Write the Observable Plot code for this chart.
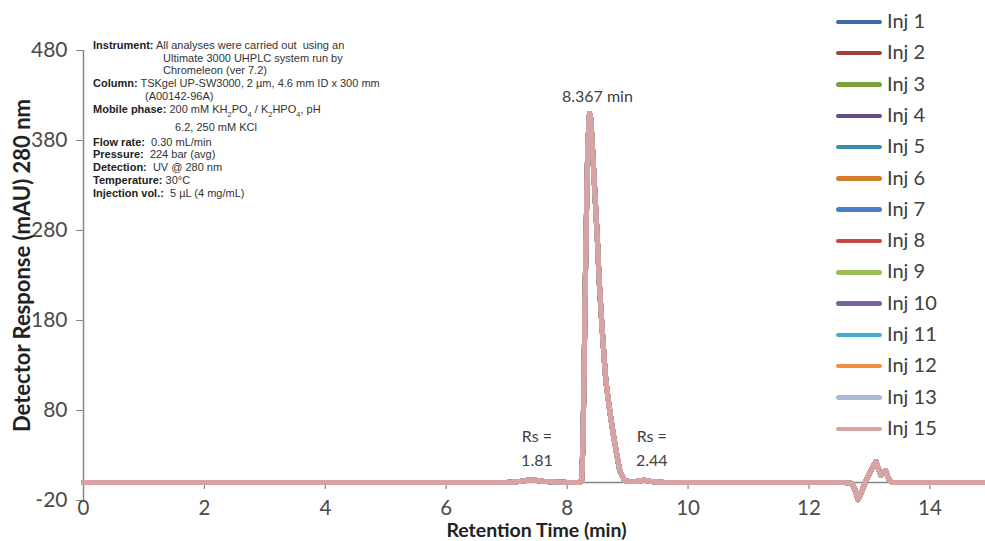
<!DOCTYPE html>
<html>
<head>
<meta charset="utf-8">
<script src="https://cdn.jsdelivr.net/npm/d3@7"></script>
<script src="https://cdn.jsdelivr.net/npm/@observablehq/plot@0.6"></script>
<style>
  body { margin: 0; background: #fff; }
  #wrap { position: relative; width: 985px; height: 541px; overflow: hidden; background: #fff; }
  #wrap svg { position: absolute; left: 0; top: 0; }
  .info { position: absolute; font-family: "Liberation Sans", Arial, sans-serif; font-size: 11px; color: #333; line-height: 12px; white-space: nowrap; }
  .info b { color: #222; }
  .info sub { font-size: 7.5px; vertical-align: -4px; line-height: 0; }
  .leg { position: absolute; left: 836px; font-family: Lato, sans-serif; font-size: 20px; color: #404040; height: 24px; line-height: 24px; white-space: nowrap; }
  .leg span.sw { display: inline-block; width: 46px; height: 4.5px; border-radius: 3px; vertical-align: middle; margin-right: 5px; position: relative; top: -1px; }
</style>
</head>
<body>
<div id="wrap"></div>
<script>
// ---- data ----
const injections = ["Inj 1","Inj 2","Inj 3","Inj 4","Inj 5","Inj 6","Inj 7","Inj 8","Inj 9","Inj 10","Inj 11","Inj 12","Inj 13","Inj 15"];
const injColors = ["#3C6AA5","#A33F3D","#7DA23C","#644E86","#3690AA","#D27C2C","#4A80C4","#C44845","#9BC156","#7A5FA3","#45ADCA","#F28F3C","#A7B8D8","#D9A3A4"];

// chromatogram (all injections overlay each other)
const retentionTime = [0, 1, 2, 3, 4, 5, 6, 7.0, 7.2, 7.4, 7.6, 7.8, 8.0, 8.2, 8.24, 8.26, 8.28, 8.30, 8.32, 8.34, 8.36, 8.37, 8.39, 8.42, 8.46, 8.50, 8.53, 8.57, 8.61, 8.64, 8.68, 8.71, 8.76, 8.80, 8.87, 8.95, 9.05, 9.15, 9.28, 9.4, 9.6, 10, 11, 12, 12.6, 12.71, 12.76, 12.81, 12.86, 12.93, 13.0, 13.06, 13.11, 13.15, 13.19, 13.23, 13.27, 13.31, 13.37, 13.5, 14, 15];
const response      = [0, 0, 0, 0, 0, 0, 0, 0,   1,   3,   1.5, 0.5, 0,   0,   2,    40,   120,  220,  300,  370,  400,  410,  405,  370,  320,  270,  224,  180,  140,  113,  92,   77,   55,   39,   13,   2,    1,    1.5,  2.5,  1,   0,   0,  0,  0,  0,    -1,    -8,    -19,   -12,   0,     10,   18,    23,    15,    8,     11,    13,    5,     0,     0,    0,  0];

const xTicks = [0, 2, 4, 6, 8, 10, 12, 14];
const yTicks = [-20, 80, 180, 280, 380, 480];

const annoLabels = ["8.367 min", "Rs =", "1.81", "Rs =", "2.44"];
const annoX      = [8.50, 7.50, 7.50, 9.40, 9.40];
const annoY      = [428, 51, 24, 51, 24];

const xTitle = "Retention Time (min)";
const yTitle = "Detector Response (mAU) 280 nm";

// ---- build tables ----
const rows = [];
injections.forEach(inj => {
  retentionTime.forEach((t, i) => rows.push({inj, t, v: response[i]}));
});
const annos = annoLabels.map((label, i) => ({label, x: annoX[i], y: annoY[i]}));

const axisGray = "#868686";

const chart = Plot.plot({
  width: 985,
  height: 541,
  marginLeft: 83,
  marginRight: 0,
  marginTop: 50,
  marginBottom: 41,
  style: {fontFamily: "Lato, sans-serif", color: "#4a4a4a", background: "transparent", overflow: "visible"},
  x: {domain: [0, 14.92]},
  y: {domain: [-20, 480]},
  color: {domain: injections, range: injColors},
  marks: [
    Plot.ruleX([0], {stroke: axisGray, strokeWidth: 1.5}),
    Plot.ruleY([0], {stroke: axisGray, strokeWidth: 1.5}),
    Plot.ruleX(xTicks.filter(d => d > 0), {x: d => d, y1: 0, y2: 0, insetBottom: -7, stroke: axisGray, strokeWidth: 1.2}),
    Plot.axisY({ticks: yTicks, tickSize: 7, tickPadding: 9, fontSize: 21, stroke: axisGray, label: null, tickFormat: d => String(d)}),
    Plot.axisX({ticks: xTicks, tickSize: 0, tickPadding: 0, fontSize: 20.5, label: null, tickFormat: d => String(d)}),
    Plot.line(rows, {x: "t", y: "v", z: "inj", stroke: "inj", strokeWidth: 5, strokeLinejoin: "round", strokeLinecap: "round"}),
    Plot.text(annos, {x: "x", y: "y", text: "label", fontSize: 16, fill: "#404040"}),
    Plot.text([xTitle], {text: d => d, frameAnchor: "bottom", textAnchor: "middle", lineAnchor: "middle", dy: 30, dx: 2, fontSize: 19.5, fontWeight: "bold", fill: "#222"}),
    Plot.text([yTitle], {text: d => d, frameAnchor: "left", textAnchor: "middle", lineAnchor: "middle", rotate: -90, dx: -61, dy: -10, fontSize: 22, fontWeight: "bold", fill: "#222"})
  ]
});

const wrap = document.getElementById("wrap");
wrap.appendChild(chart);

// info box
const infoLines = [
  [45, 93, "<b>Instrument:</b> All analyses were carried out&nbsp; using an"],
  [58, 163, "Ultimate 3000 UHPLC system run by"],
  [70, 163, "Chromeleon (ver 7.2)"],
  [83, 93, "<b>Column:</b> TSKgel UP-SW3000, 2 µm, 4.6 mm ID x 300 mm"],
  [96, 145, "(A00142-96A)"],
  [109, 93, "<b>Mobile phase:</b> 200 mM KH<sub>2</sub>PO<sub>4</sub> / K<sub>2</sub>HPO<sub>4</sub>, pH"],
  [127, 175, "6.2, 250 mM KCl"],
  [142, 93, "<b>Flow rate:</b>&nbsp; 0.30 mL/min"],
  [154, 93, "<b>Pressure:</b>&nbsp; 224 bar (avg)"],
  [167, 93, "<b>Detection:</b>&nbsp; UV @ 280 nm"],
  [180, 93, "<b>Temperature:</b> 30°C"],
  [193, 93, "<b>Injection vol.:</b>&nbsp; 5 µL (4 mg/mL)"]
];
infoLines.forEach(([cy, x, html]) => {
  const d = document.createElement("div");
  d.className = "info";
  d.style.left = x + "px";
  d.style.top = (cy - 6) + "px";
  d.innerHTML = html;
  wrap.appendChild(d);
});

// legend
injections.forEach((inj, i) => {
  const d = document.createElement("div");
  d.className = "leg";
  d.style.top = (20 + i * 31.3 - 12) + "px";
  const sw = document.createElement("span");
  sw.className = "sw";
  sw.style.background = injColors[i];
  d.appendChild(sw);
  d.appendChild(document.createTextNode(inj));
  wrap.appendChild(d);
});
</script>
</body>
</html>
